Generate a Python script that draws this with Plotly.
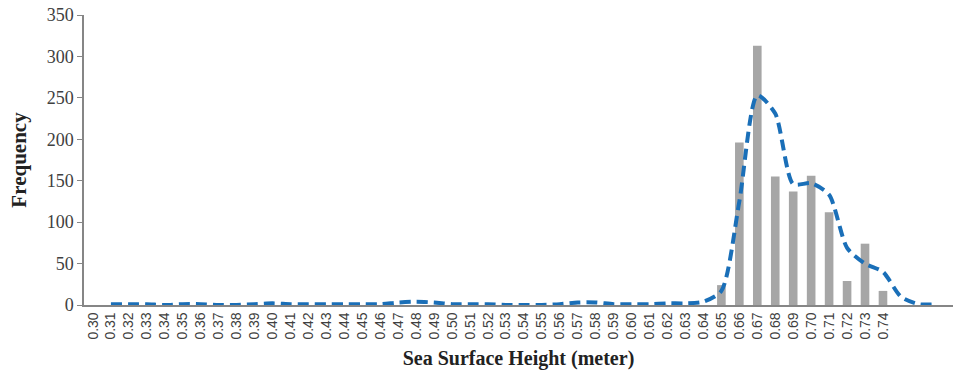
import plotly.graph_objects as go

# Sea surface height bins (meter); the last three bins are unlabeled
heights = [f"{v/100:.2f}" for v in range(30, 78)]
tick_labels = [h if float(h) <= 0.745 else "" for h in heights]

# Observed frequency per bin
frequency = [0] * 35 + [24, 196, 313, 155, 137, 156, 112, 29, 74, 17, 0, 0, 0]

# Smoothed frequency curve (starts at the 0.31 bin)
curve_x = heights[1:]
curve_y = [1, 1, 1, 0, 1, 1, 0, 0, 1, 2, 1, 1, 1, 1, 1, 1, 3, 4, 3, 1,
           1, 1, 0, 0, 0, 1, 3, 3, 1, 1, 1, 2, 2, 4, 17, 125, 253, 231,
           146, 147, 133, 69, 50, 40, 10, 1, 1]

fig = go.Figure()
fig.add_trace(go.Bar(
    x=heights, y=frequency,
    marker=dict(color="#a6a6a6", line=dict(width=0)),
    showlegend=False,
))
fig.add_trace(go.Scatter(
    x=curve_x, y=curve_y, mode="lines",
    line=dict(color="#1a6fb8", width=4, dash="11px,6px", shape="spline", smoothing=0.7),
    showlegend=False,
))

fig.update_layout(
    width=953, height=374,
    margin=dict(l=84, r=0, t=15, b=69),
    paper_bgcolor="white", plot_bgcolor="white",
    bargap=0.52,
    xaxis=dict(
        type="category",
        tickmode="array", tickvals=heights, ticktext=tick_labels,
        tickangle=-90,
        tickfont=dict(family="Liberation Sans", size=14, color="#404040"),
        range=[-0.5, 47.9],
        showline=True, linecolor="#868686", linewidth=1.5,
        showgrid=False, ticks="",
        title=dict(text="<b>Sea Surface Height (meter)</b>",
                   font=dict(family="Liberation Serif", size=20, color="#222"),
                   standoff=12),
    ),
    yaxis=dict(
        range=[0, 350], tickvals=list(range(0, 351, 50)),
        tickfont=dict(family="Liberation Serif", size=18, color="#404040"),
        showline=True, linecolor="#868686", linewidth=1.5,
        ticks="outside", ticklen=5, tickcolor="#868686",
        showgrid=False, zeroline=False,
        title=dict(text="<b>Frequency</b>",
                   font=dict(family="Liberation Serif", size=21, color="#222"),
                   standoff=14),
    ),
)

fig.write_html("out.html")
